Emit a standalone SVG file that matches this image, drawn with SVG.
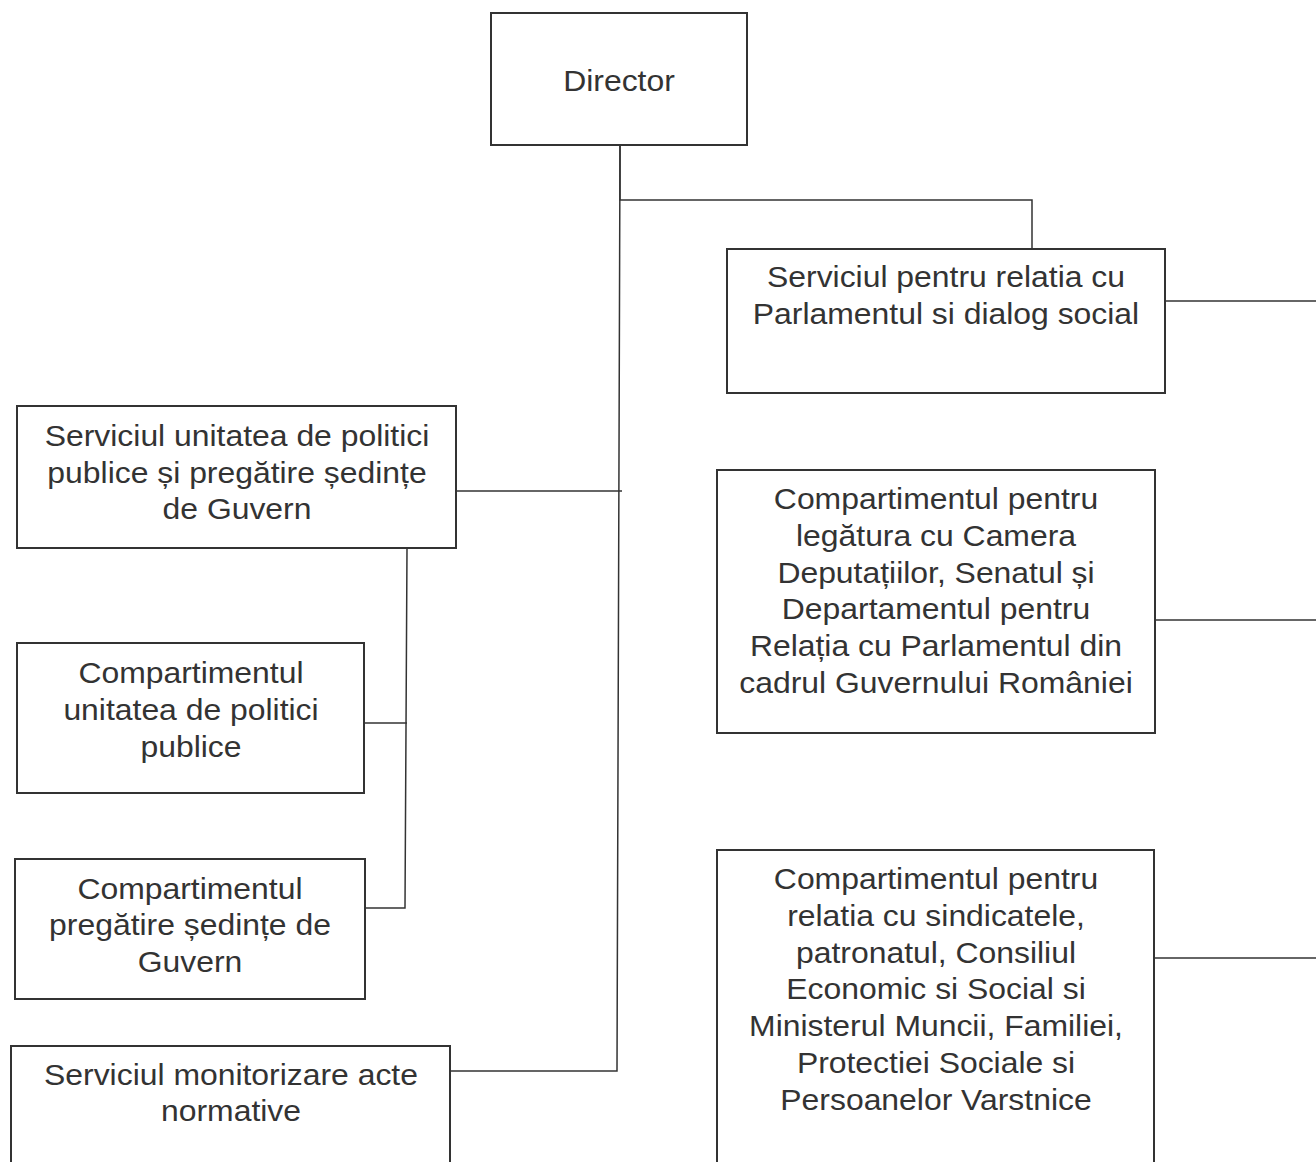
<svg xmlns="http://www.w3.org/2000/svg" width="1316" height="1162" viewBox="0 0 1316 1162">
<style>
.box{fill:#fff;stroke:#333;stroke-width:2}
.lbl{font-family:"Liberation Sans",Arial,sans-serif;font-size:29px;fill:#333;text-anchor:middle}
.con{fill:none;stroke:#333;stroke-width:1.5}
</style>
<rect width="1316" height="1162" fill="#fff"/>
<g id="connectors" class="con">
<path d="M620,145 V200 H1032 V249"/>
<path d="M620,145 L617,1071 H450"/>
<path d="M456,491 H622"/>
<path d="M407,548 L405,908 H364"/>
<path d="M364,723 H407"/>
<path d="M1165,301 H1316"/>
<path d="M1155,620 H1316"/>
<path d="M1154,958 H1316"/>
</g>
<g id="director">
<rect class="box" x="491" y="13" width="256" height="132"/>
<text class="lbl" transform="translate(619 0) scale(1.1 1)"><tspan x="0" y="91">Director</tspan></text>
</g>
<g id="serviciul-parlament">
<rect class="box" x="727" y="249" width="438" height="144"/>
<text class="lbl" transform="translate(946 0) scale(1.1 1)"><tspan x="0" y="287">Serviciul pentru relatia cu</tspan><tspan x="0" y="324.5">Parlamentul si dialog social</tspan></text>
</g>
<g id="serviciul-politici">
<rect class="box" x="17" y="406" width="439" height="142"/>
<text class="lbl" transform="translate(237 0) scale(1.1 1)"><tspan x="0" y="446">Serviciul unitatea de politici</tspan><tspan x="0" y="483">publice și pregătire ședințe</tspan><tspan x="0" y="519.5">de Guvern</tspan></text>
</g>
<g id="compartiment-camera">
<rect class="box" x="717" y="470" width="438" height="263"/>
<text class="lbl" transform="translate(936 0) scale(1.1 1)"><tspan x="0" y="509">Compartimentul pentru</tspan><tspan x="0" y="545.8">legătura cu Camera</tspan><tspan x="0" y="582.6">Deputațiilor, Senatul și</tspan><tspan x="0" y="619.4">Departamentul pentru</tspan><tspan x="0" y="656.2">Relația cu Parlamentul din</tspan><tspan x="0" y="693">cadrul Guvernului României</tspan></text>
</g>
<g id="compartiment-politici">
<rect class="box" x="17" y="643" width="347" height="150"/>
<text class="lbl" transform="translate(191 0) scale(1.1 1)"><tspan x="0" y="683">Compartimentul</tspan><tspan x="0" y="720">unitatea de politici</tspan><tspan x="0" y="757">publice</tspan></text>
</g>
<g id="compartiment-sedinte">
<rect class="box" x="15" y="859" width="350" height="140"/>
<text class="lbl" transform="translate(190 0) scale(1.1 1)"><tspan x="0" y="899">Compartimentul</tspan><tspan x="0" y="935.5">pregătire ședințe de</tspan><tspan x="0" y="972">Guvern</tspan></text>
</g>
<g id="serviciul-monitorizare">
<rect class="box" x="11" y="1046" width="439" height="130"/>
<text class="lbl" transform="translate(231 0) scale(1.1 1)"><tspan x="0" y="1085">Serviciul monitorizare acte</tspan><tspan x="0" y="1121.5">normative</tspan></text>
</g>
<g id="compartiment-sindicate">
<rect class="box" x="717" y="850" width="437" height="330"/>
<text class="lbl" transform="translate(936 0) scale(1.1 1)"><tspan x="0" y="889">Compartimentul pentru</tspan><tspan x="0" y="925.8">relatia cu sindicatele,</tspan><tspan x="0" y="962.6">patronatul, Consiliul</tspan><tspan x="0" y="999.4">Economic si Social si</tspan><tspan x="0" y="1036.2">Ministerul Muncii, Familiei,</tspan><tspan x="0" y="1073">Protectiei Sociale si</tspan><tspan x="0" y="1109.8">Persoanelor Varstnice</tspan></text>
</g>
</svg>
